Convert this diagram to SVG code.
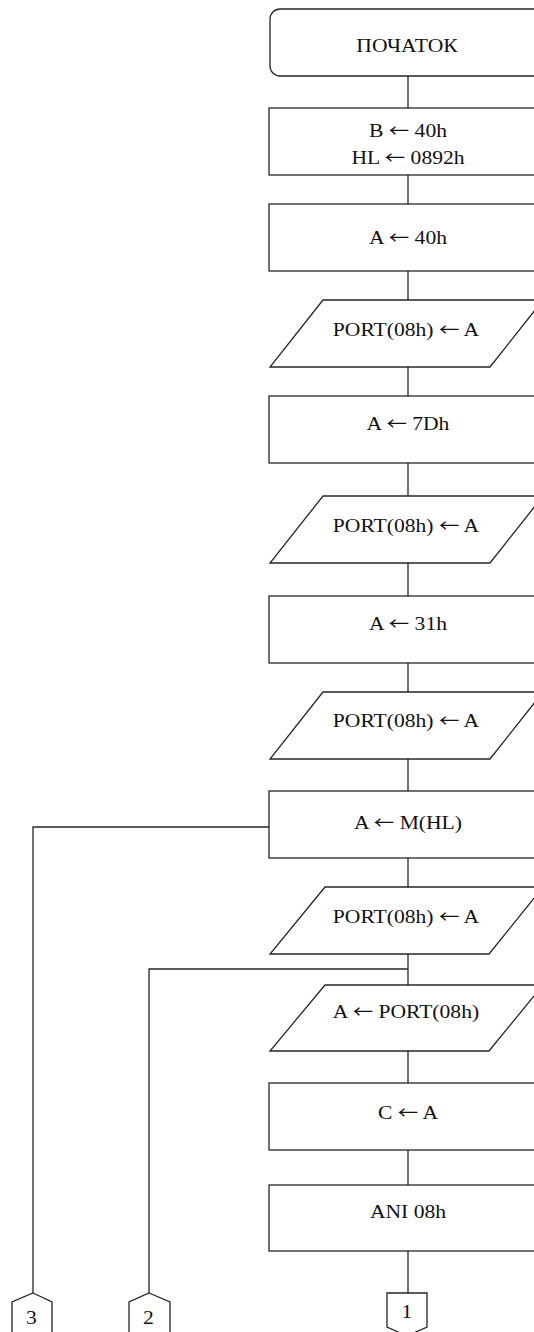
<svg xmlns="http://www.w3.org/2000/svg" width="534" height="1332" viewBox="0 0 534 1332">
  <style>
    .shape { fill: #ffffff; stroke: #262626; stroke-width: 1.3; }
    .wire { fill: none; stroke: #262626; stroke-width: 1.3; }
    .lbl { font-family: "Liberation Serif", "Times New Roman", serif; font-size: 18px; fill: #111111; text-anchor: middle; }
    .arr { font-family: "Noto Sans CJK JP", "DejaVu Serif", sans-serif; font-size: 17px; }
  </style>

  <!-- connectors -->
  <g id="connectors">
    <line class="wire" x1="408" y1="76" x2="408" y2="108"/>
    <line class="wire" x1="408" y1="175" x2="408" y2="204"/>
    <line class="wire" x1="408" y1="271" x2="408" y2="300"/>
    <line class="wire" x1="408" y1="367" x2="408" y2="396"/>
    <line class="wire" x1="408" y1="463" x2="408" y2="496"/>
    <line class="wire" x1="408" y1="563" x2="408" y2="596"/>
    <line class="wire" x1="408" y1="663" x2="408" y2="692"/>
    <line class="wire" x1="408" y1="759" x2="408" y2="791"/>
    <line class="wire" x1="408" y1="858" x2="408" y2="887"/>
    <line class="wire" x1="408" y1="954" x2="408" y2="985"/>
    <line class="wire" x1="408" y1="1051" x2="408" y2="1083"/>
    <line class="wire" x1="408" y1="1150" x2="408" y2="1185"/>
    <line class="wire" x1="408" y1="1251" x2="408" y2="1293"/>
    <!-- branch to off-page connector 3 -->
    <polyline class="wire" points="269,827 33,827 33,1293"/>
    <!-- branch to off-page connector 2 -->
    <polyline class="wire" points="408,969 149,969 149,1293"/>
  </g>

  <g id="start">
    <rect class="shape" x="270" y="9" width="278" height="67" rx="10" ry="10"/>
    <text class="lbl" transform="translate(407 51.5) scale(1.2 1)">ПОЧАТОК</text>
  </g>

  <g id="init-b-hl">
    <rect class="shape" x="269" y="108" width="278" height="67"/>
    <text class="lbl" transform="translate(408 136.7) scale(1.2 1)">B <tspan class="arr">←</tspan> 40h</text>
    <text class="lbl" transform="translate(408 164) scale(1.2 1)">HL <tspan class="arr">←</tspan> 0892h</text>
  </g>

  <g id="load-40">
    <rect class="shape" x="269" y="204" width="278" height="67"/>
    <text class="lbl" transform="translate(408 243.5) scale(1.2 1)">A <tspan class="arr">←</tspan> 40h</text>
  </g>

  <g id="out-1">
    <polygon class="shape" points="323,300 543,300 490,367 270,367"/>
    <text class="lbl" transform="translate(406 336) scale(1.2 1)">PORT(08h) <tspan class="arr">←</tspan> A</text>
  </g>

  <g id="load-7d">
    <rect class="shape" x="269" y="396" width="278" height="67"/>
    <text class="lbl" transform="translate(408 430) scale(1.2 1)">A <tspan class="arr">←</tspan> 7Dh</text>
  </g>

  <g id="out-2">
    <polygon class="shape" points="323,496 543,496 490,563 270,563"/>
    <text class="lbl" transform="translate(406 532) scale(1.2 1)">PORT(08h) <tspan class="arr">←</tspan> A</text>
  </g>

  <g id="load-31">
    <rect class="shape" x="269" y="596" width="278" height="67"/>
    <text class="lbl" transform="translate(408 630) scale(1.2 1)">A <tspan class="arr">←</tspan> 31h</text>
  </g>

  <g id="out-3">
    <polygon class="shape" points="323,692 543,692 490,759 270,759"/>
    <text class="lbl" transform="translate(406 727) scale(1.2 1)">PORT(08h) <tspan class="arr">←</tspan> A</text>
  </g>

  <g id="load-mem">
    <rect class="shape" x="269" y="791" width="278" height="67"/>
    <text class="lbl" transform="translate(408 828.5) scale(1.2 1)">A <tspan class="arr">←</tspan> M(HL)</text>
  </g>

  <g id="out-4">
    <polygon class="shape" points="325,887 543,887 489,954 270,954"/>
    <text class="lbl" transform="translate(406 922.7) scale(1.2 1)">PORT(08h) <tspan class="arr">←</tspan> A</text>
  </g>

  <g id="in-port">
    <polygon class="shape" points="325,985 543,985 489,1051 270,1051"/>
    <text class="lbl" transform="translate(406 1018.3) scale(1.2 1)">A <tspan class="arr">←</tspan> PORT(08h)</text>
  </g>

  <g id="save-c">
    <rect class="shape" x="269" y="1083" width="278" height="67"/>
    <text class="lbl" transform="translate(408 1119.3) scale(1.2 1)">C <tspan class="arr">←</tspan> A</text>
  </g>

  <g id="ani">
    <rect class="shape" x="269" y="1185" width="278" height="66"/>
    <text class="lbl" transform="translate(408 1218.3) scale(1.2 1)">ANI 08h</text>
  </g>

  <!-- off-page connectors -->
  <g id="link-1">
    <polygon class="shape" points="387,1293 427,1293 427,1327 407,1336 387,1327"/>
    <text class="lbl" transform="translate(407 1318.3) scale(1.2 1)">1</text>
  </g>

  <g id="link-2">
    <polygon class="shape" points="149,1293 170,1302 170,1340 129,1340 129,1302"/>
    <text class="lbl" transform="translate(148.5 1324) scale(1.2 1)">2</text>
  </g>

  <g id="link-3">
    <polygon class="shape" points="33,1293 52,1302 52,1340 12,1340 12,1302"/>
    <text class="lbl" transform="translate(31.5 1324) scale(1.2 1)">3</text>
  </g>
</svg>
